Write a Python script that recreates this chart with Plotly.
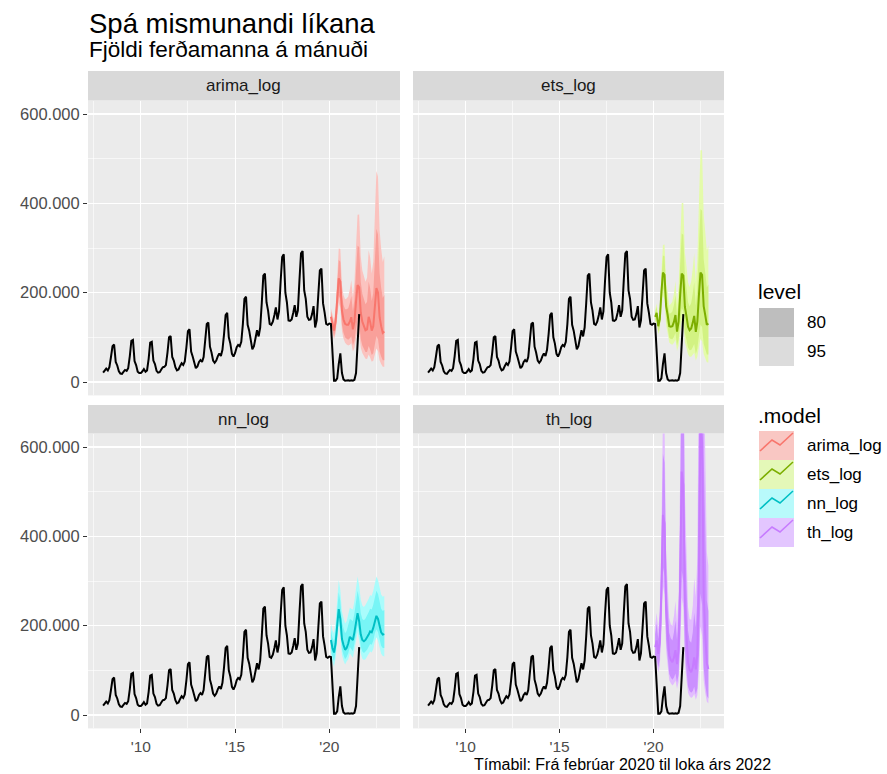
import pandas as pd
import plotly.graph_objects as go

# ---------------- data (thousands of visitors) ----------------
history_start = "2008-01-01"
history_k = [
    21, 27, 30, 26, 33, 56, 80, 84, 45, 37, 24, 19,        # 2008
    18, 23, 27, 25, 31, 58, 92, 94, 47, 38, 23, 20,        # 2009
    20, 24, 29, 23, 26, 52, 88, 90, 48, 40, 25, 21,        # 2010
    22, 28, 33, 34, 38, 66, 100, 103, 56, 48, 33, 26,      # 2011
    28, 36, 42, 38, 46, 77, 114, 118, 68, 57, 40, 31,      # 2012
    35, 45, 49, 45, 56, 89, 130, 133, 79, 66, 48, 43,      # 2013
    48, 58, 64, 58, 72, 107, 150, 155, 100, 86, 63, 57,    # 2014
    65, 78, 83, 80, 90, 130, 186, 191, 128, 115, 88, 73,   # 2015
    80, 100, 116, 102, 122, 177, 238, 243, 178, 160, 130, 128,  # 2016
    135, 150, 167, 140, 158, 225, 280, 286, 200, 178, 138, 137,  # 2017
    140, 155, 172, 146, 160, 228, 288, 293, 205, 186, 146, 139,  # 2018
    140, 152, 170, 122, 138, 195, 250, 254, 176, 156, 130, 128,  # 2019
    131, 130, 50, 3, 3, 8, 40, 64, 20, 6, 3, 4,            # 2020
    4, 3, 4, 3, 5, 20, 85, 152,                            # 2021
]

forecast_start = "2020-02-01"
models = ["arima_log", "ets_log", "nn_log", "th_log"]

arima_mean = [146, 130, 115, 135, 190, 232, 225, 160, 140, 130, 128,
              128, 135, 145, 118, 135, 180, 217, 212, 155, 135, 125, 116,
              118, 146, 135, 115, 125, 170, 210, 200, 145, 125, 110, 113]
arima_lo95 = [128.5, 111.2, 95.6, 109.0, 149.2, 176.8, 166.5, 114.9, 97.6, 88.0, 84.0,
              81.5, 83.4, 86.8, 68.5, 76.0, 98.2, 114.7, 108.6, 76.9, 64.8, 58.2, 52.2,
              51.4, 61.6, 55.1, 45.3, 47.6, 62.7, 74.8, 68.9, 48.3, 40.2, 34.2, 33.9]
arima_lo80 = [134.3, 117.3, 101.8, 117.2, 161.8, 193.7, 184.1, 128.4, 110.0, 100.2, 96.6,
              94.6, 97.7, 102.6, 81.8, 91.6, 119.4, 140.8, 134.6, 96.2, 81.9, 74.2, 67.2,
              66.9, 80.8, 73.0, 60.7, 64.3, 85.4, 103.0, 95.7, 67.7, 56.9, 48.9, 48.9]
arima_hi80 = [158.1, 143.2, 128.8, 153.7, 220.0, 272.9, 269.1, 194.2, 172.7, 162.8, 162.8,
              165.3, 177.0, 192.6, 159.2, 184.7, 249.7, 305.1, 302.4, 224.0, 197.5, 185.4, 174.2,
              179.6, 225.0, 210.7, 181.4, 199.5, 274.7, 343.1, 330.5, 242.4, 211.1, 187.9, 195.0]
arima_hi95 = [165.2, 151.0, 137.2, 165.2, 238.7, 298.9, 297.6, 217.0, 194.6, 185.3, 187.1,
              191.6, 207.2, 227.8, 190.0, 222.6, 303.8, 374.6, 374.8, 280.2, 249.7, 236.6, 224.3,
              233.6, 295.2, 279.1, 242.7, 269.4, 374.4, 472.3, 459.3, 340.0, 299.0, 268.6, 281.6]

ets_mean = [146, 155, 125, 140, 200, 245, 240, 170, 150, 125, 124,
            125, 135, 150, 113, 135, 195, 243, 238, 168, 148, 124, 116,
            120, 133, 148, 112, 135, 195, 245, 240, 170, 150, 128, 131]
ets_lo95 = [131.5, 135.9, 106.7, 116.4, 161.8, 193.1, 184.0, 126.9, 109.0, 88.3, 85.2,
            83.6, 87.7, 94.7, 69.3, 80.5, 112.9, 136.8, 130.1, 89.2, 76.3, 62.0, 56.3,
            56.6, 60.8, 65.7, 48.2, 56.3, 78.9, 96.1, 91.3, 62.7, 53.6, 44.3, 43.9]
ets_lo80 = [136.4, 142.2, 112.7, 123.9, 173.8, 209.2, 201.1, 140.0, 121.2, 99.1, 96.4,
            95.5, 101.1, 110.1, 81.3, 95.3, 134.9, 164.9, 158.2, 109.4, 94.4, 77.4, 70.9,
            71.8, 77.9, 84.9, 62.9, 74.2, 104.7, 128.8, 123.4, 85.4, 73.7, 61.5, 61.5]
ets_hi80 = [156.2, 168.3, 137.8, 156.8, 227.4, 283.0, 281.4, 202.3, 181.3, 153.1, 154.1,
            157.7, 172.7, 194.4, 148.5, 179.9, 263.2, 332.4, 329.8, 235.8, 210.5, 178.4, 169.1,
            177.1, 198.5, 223.6, 171.3, 208.6, 304.9, 387.2, 383.6, 274.7, 245.0, 211.4, 218.5]
ets_hi95 = [162.0, 176.0, 145.5, 167.0, 244.3, 306.6, 307.6, 223.2, 201.6, 171.9, 174.4,
            180.1, 198.9, 226.0, 174.2, 212.8, 314.3, 400.5, 400.8, 289.1, 260.4, 222.7, 212.9,
            224.9, 254.4, 289.1, 223.4, 274.7, 404.8, 518.7, 518.8, 374.6, 337.1, 293.3, 306.0]

nn_mean = [168, 150, 140, 160, 200, 237, 215, 170, 157, 146, 150,
           160, 175, 172, 168, 185, 210, 228, 210, 180, 168, 165, 168,
           173, 180, 187, 185, 195, 212, 222, 215, 198, 185, 180, 181]
nn_lo95 = [136, 118, 108, 127, 165, 200, 178, 134, 122, 113, 120,
           125, 138, 134, 128, 145, 168, 185, 167, 138, 126, 123, 125,
           130, 136, 142, 140, 148, 165, 174, 167, 150, 137, 132, 131]
nn_lo80 = [148, 130, 120, 140, 178, 214, 192, 147, 135, 125, 130,
           138, 152, 148, 143, 160, 184, 202, 183, 154, 142, 139, 142,
           146, 153, 159, 157, 166, 183, 192, 185, 168, 155, 150, 150]
nn_hi80 = [190, 173, 165, 188, 235, 275, 255, 208, 195, 183, 188,
           200, 215, 213, 210, 228, 255, 278, 260, 228, 215, 212, 216,
           222, 230, 238, 236, 247, 266, 278, 271, 252, 238, 233, 235]
nn_hi95 = [205, 190, 183, 207, 258, 302, 280, 232, 218, 205, 210,
           223, 240, 238, 236, 255, 283, 310, 290, 258, 245, 242, 246,
           252, 260, 268, 267, 278, 298, 310, 302, 283, 270, 265, 267]

th_mean = [152, 167, 137, 163, 275, 448, 429, 235, 184, 133, 123,
           118, 129, 145, 114, 146, 293, 545, 515, 253, 180, 117, 101,
           96, 107, 129, 102, 135, 314, 651, 610, 273, 181, 116, 103]
th_lo95 = [112, 119, 95, 110, 181, 288, 270, 145, 111, 78, 71,
           66, 70, 77, 59, 74, 145, 262, 240, 115, 79, 50, 42,
           38, 41, 47, 34, 44, 99, 198, 178, 77, 49, 30, 26]
th_lo80 = [124, 133, 107, 125, 207, 331, 312, 168, 130, 92, 84,
           79, 84, 93, 72, 90, 178, 324, 299, 144, 100, 64, 54,
           50, 54, 63, 46, 60, 135, 272, 247, 107, 69, 43, 37]
th_hi80 = [181, 205, 170, 205, 352, 585, 565, 315, 249, 184, 172,
           167, 186, 211, 168, 218, 440, 835, 803, 400, 289, 189, 167,
           162, 185, 229, 196, 260, 623, 1322, 1270, 584, 395, 256, 233]
th_hi95 = [201, 229, 192, 233, 403, 672, 653, 365, 292, 217, 203,
           200, 223, 255, 205, 265, 541, 1032, 1000, 501, 366, 242, 215,
           213, 244, 306, 265, 355, 850, 1818, 1761, 812, 556, 365, 334]

forecast = {
    "arima_log": (arima_mean, arima_lo95, arima_lo80, arima_hi80, arima_hi95),
    "ets_log": (ets_mean, ets_lo95, ets_lo80, ets_hi80, ets_hi95),
    "nn_log": (nn_mean, nn_lo95, nn_lo80, nn_hi80, nn_hi95),
    "th_log": (th_mean, th_lo95, th_lo80, th_hi80, th_hi95),
}

line_colors = {"arima_log": "#F8766D", "ets_log": "#7CAE00",
               "nn_log": "#00BFC4", "th_log": "#C77CFF"}
band95_colors = {"arima_log": "#FBC3BF", "ets_log": "#E4FBAA",
                 "nn_log": "#AAFCFC", "th_log": "#E2BCFF"}
band80_colors = {"arima_log": "#F9A09A", "ets_log": "#D2F282",
                 "nn_log": "#78F5F6", "th_log": "#CB90FF"}
key_fill = {"arima_log": "#F9C7C3", "ets_log": "#E4F8B8",
            "nn_log": "#B8FAFB", "th_log": "#E3C6FF"}

y_ticks = [0, 200000, 400000, 600000]
y_tick_text = ["0", "200.000", "400.000", "600.000"]
x_ticks = ["2010-01-01", "2015-01-01", "2020-01-01"]
x_tick_text = ["'10", "'15", "'20"]

# ---------------- geometry ----------------
W, H = 887, 774
def fx(px):
    return px / W
def fy(py):
    return 1 - py / H

FONT = "Liberation Sans, Arial, Helvetica, sans-serif"
hist_x = pd.date_range(history_start, periods=len(history_k), freq="MS")
fc_x = pd.date_range(forecast_start, periods=len(arima_mean), freq="MS")

panels = [  # (model, x-px range, y-px range, strip y range)
    ("arima_log", (88, 400), (100.6, 395.4), (71, 100.6)),
    ("ets_log", (413, 724), (100.6, 395.4), (71, 100.6)),
    ("nn_log", (88, 400), (433.6, 728.4), (405, 433.6)),
    ("th_log", (413, 724), (433.6, 728.4), (405, 433.6)),
]

fig = go.Figure()
layout_axes = {}
shapes = []
annotations = []

for i, (model, (x0, x1), (y0, y1), (s0, s1)) in enumerate(panels):
    n = "" if i == 0 else str(i + 1)
    xa, ya = "x" + n, "y" + n
    mean, lo95, lo80, hi80, hi95 = forecast[model]
    k = lambda v: [a * 1000 for a in v]
    common = dict(xaxis=xa, yaxis=ya, showlegend=False, hoverinfo="skip")
    fig.add_trace(go.Scatter(x=fc_x, y=k(lo95), mode="lines", line=dict(width=0), **common))
    fig.add_trace(go.Scatter(x=fc_x, y=k(hi95), mode="lines", line=dict(width=0),
                             fill="tonexty", fillcolor=band95_colors[model], **common))
    fig.add_trace(go.Scatter(x=fc_x, y=k(lo80), mode="lines", line=dict(width=0), **common))
    fig.add_trace(go.Scatter(x=fc_x, y=k(hi80), mode="lines", line=dict(width=0),
                             fill="tonexty", fillcolor=band80_colors[model], **common))
    fig.add_trace(go.Scatter(x=fc_x, y=k(mean), mode="lines",
                             line=dict(color=line_colors[model], width=2), **common))
    fig.add_trace(go.Scatter(x=hist_x, y=k(history_k), mode="lines",
                             line=dict(color="black", width=2), **common))

    bottom = i >= 2
    left = i % 2 == 0
    layout_axes["xaxis" + n] = dict(
        domain=[fx(x0), fx(x1)], anchor=ya, type="date",
        range=["2007-03-14", "2023-10-01"],
        tickmode="array", tickvals=x_ticks, ticktext=x_tick_text,
        showticklabels=bottom, ticks="outside" if bottom else "",
        ticklen=4, tickwidth=1, tickcolor="#333333",
        tickfont=dict(size=15.5, color="#4D4D4D", family=FONT),
        showgrid=True, gridcolor="white", gridwidth=1.2, zeroline=False,
        showline=False, fixedrange=True,
        minor=dict(tickmode="array",
                   tickvals=["2007-07-02", "2012-07-02", "2017-07-02", "2022-07-02"],
                   showgrid=True, gridcolor="white", gridwidth=0.6, ticks=""),
    )
    layout_axes["yaxis" + n] = dict(
        domain=[fy(y1), fy(y0)], anchor=xa, range=[-30000, 630000],
        tickmode="array", tickvals=y_ticks, ticktext=y_tick_text,
        showticklabels=left, ticks="outside" if left else "",
        ticklen=4, tickwidth=1, tickcolor="#333333",
        tickfont=dict(size=16.5, color="#4D4D4D", family=FONT),
        showgrid=True, gridcolor="white", gridwidth=1.2, zeroline=False,
        showline=False, fixedrange=True,
        minor=dict(tickmode="array", tickvals=[100000, 300000, 500000],
                   showgrid=True, gridcolor="white", gridwidth=0.6, ticks=""),
    )
    # facet strip
    shapes.append(dict(type="rect", xref="paper", yref="paper",
                       x0=fx(x0), x1=fx(x1), y0=fy(s1), y1=fy(s0),
                       fillcolor="#D9D9D9", line=dict(width=0), layer="below"))
    annotations.append(dict(text=model, xref="paper", yref="paper",
                            x=fx((x0 + x1) / 2), y=fy((s0 + s1) / 2),
                            xanchor="center", yanchor="middle", showarrow=False,
                            font=dict(size=17, color="#1A1A1A", family=FONT)))

# titles and caption
annotations.append(dict(text="Spá mismunandi líkana", xref="paper", yref="paper",
                        x=fx(87), y=fy(23), xanchor="left", yanchor="middle",
                        showarrow=False, font=dict(size=27.5, color="black", family=FONT)))
annotations.append(dict(text="Fjöldi ferðamanna á mánuði", xref="paper", yref="paper",
                        x=fx(87), y=fy(50), xanchor="left", yanchor="middle",
                        showarrow=False, font=dict(size=22.5, color="black", family=FONT)))
annotations.append(dict(text="Tímabil: Frá febrúar 2020 til loka árs 2022", xref="paper",
                        yref="paper", x=fx(772), y=fy(764), xanchor="right", yanchor="middle",
                        showarrow=False, borderpad=0,
                        font=dict(size=16, color="black", family=FONT)))

# legend: level
annotations.append(dict(text="level", xref="paper", yref="paper", x=fx(756), y=fy(292),
                        xanchor="left", yanchor="middle", showarrow=False,
                        font=dict(size=21, color="black", family=FONT)))
level_keys = [("80", "#BEBEBE"), ("95", "#DCDCDC")]
for j, (lab, col) in enumerate(level_keys):
    top = 308 + j * 29
    shapes.append(dict(type="rect", xref="paper", yref="paper", x0=fx(759), x1=fx(794),
                       y0=fy(top + 29), y1=fy(top), fillcolor=col, line=dict(width=0)))
    annotations.append(dict(text=lab, xref="paper", yref="paper", x=fx(805), y=fy(top + 14.5),
                            xanchor="left", yanchor="middle", showarrow=False,
                            font=dict(size=17, color="black", family=FONT)))

# legend: model
annotations.append(dict(text=".model", xref="paper", yref="paper", x=fx(756), y=fy(415),
                        xanchor="left", yanchor="middle", showarrow=False,
                        font=dict(size=21, color="black", family=FONT)))
for j, model in enumerate(models):
    top = 431 + j * 29
    shapes.append(dict(type="rect", xref="paper", yref="paper", x0=fx(759), x1=fx(794),
                       y0=fy(top + 29), y1=fy(top), fillcolor=key_fill[model],
                       line=dict(width=0)))
    pts = [(760, top + 20), (772, top + 9), (780, top + 14), (793, top + 2)]
    path = "M " + " L ".join(f"{fx(a):.5f},{fy(b):.5f}" for a, b in pts)
    shapes.append(dict(type="path", xref="paper", yref="paper", path=path,
                       line=dict(color=line_colors[model], width=1.6)))
    annotations.append(dict(text=model, xref="paper", yref="paper", x=fx(805), y=fy(top + 14.5),
                            xanchor="left", yanchor="middle", showarrow=False,
                            font=dict(size=17, color="black", family=FONT)))

fig.update_layout(
    width=W, height=H, margin=dict(l=0, r=0, t=0, b=0),
    paper_bgcolor="white", plot_bgcolor="#EBEBEB",
    font=dict(family=FONT), showlegend=False,
    shapes=shapes, annotations=annotations, **layout_axes,
)

fig.write_html(
    "out.html",
    config={"displayModeBar": False, "staticPlot": True},
    post_script="document.body.style.margin='0';document.body.style.overflow='hidden';",
)
